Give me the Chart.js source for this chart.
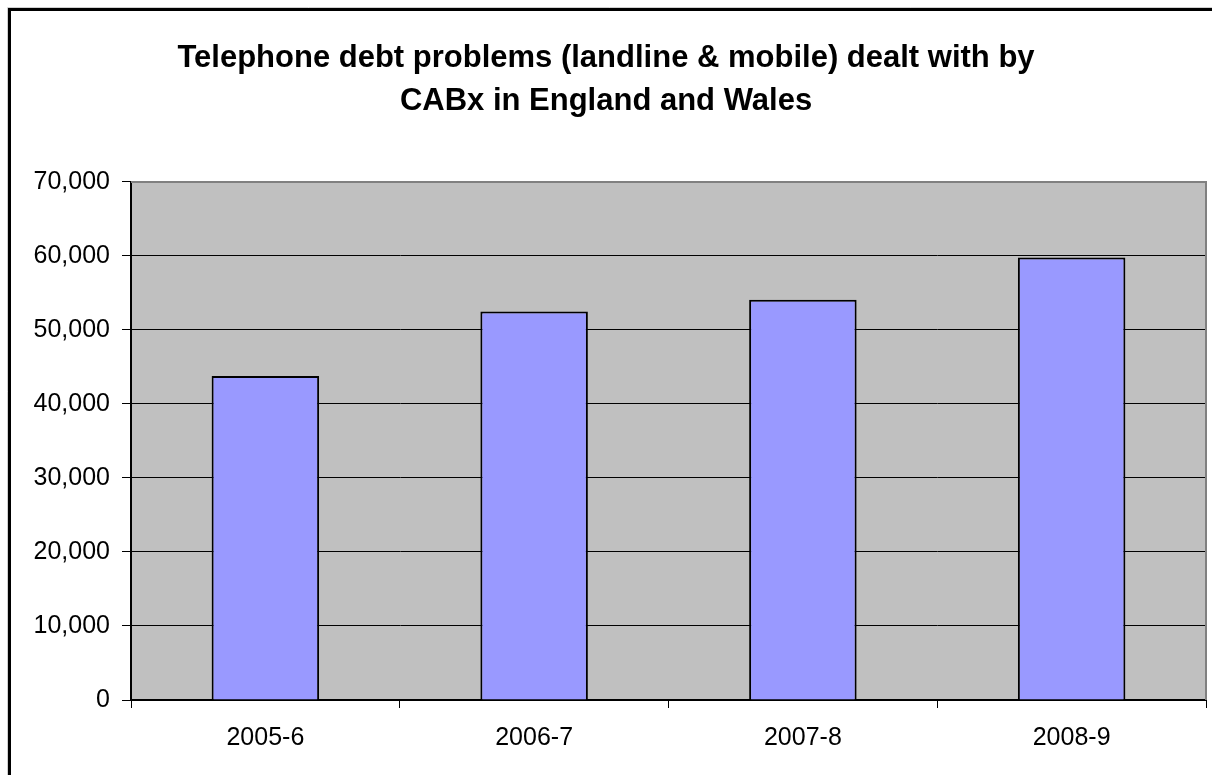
<!DOCTYPE html>
<html>
<head>
<meta charset="utf-8">
<script src="https://cdn.jsdelivr.net/npm/chart.js@4/dist/chart.umd.min.js"></script>
<style>
  html, body { margin: 0; padding: 0; background: #fff; }
  #wrap { width: 1212px; height: 775px; position: relative; }
</style>
</head>
<body>
<div id="wrap"><canvas id="c" width="1212" height="775"></canvas></div>
<script>
const categories = ["2005-6", "2006-7", "2007-8", "2008-9"];
const problems = [43800, 52500, 54100, 59800];
const titleLines = ["Telephone debt problems (landline & mobile) dealt with by", "CABx in England and Wales"];
const yMin = 0, yMax = 70000, yStep = 10000;

const FONT = "'Liberation Sans', Arial, Helvetica, sans-serif";

const framePlugin = {
  id: 'frame',
  beforeDraw(chart) {
    const { ctx, chartArea: a } = chart;
    ctx.save();
    ctx.fillStyle = '#C0C0C0';
    ctx.fillRect(a.left, a.top, a.right - a.left, a.bottom - a.top);
    ctx.restore();
  },
  afterDraw(chart) {
    const { ctx, chartArea: a } = chart;
    ctx.save();
    ctx.strokeStyle = '#808080';
    ctx.lineWidth = 2;
    ctx.beginPath();
    ctx.moveTo(a.left, a.top);
    ctx.lineTo(a.right, a.top);
    ctx.lineTo(a.right, a.bottom);
    ctx.stroke();
    ctx.strokeStyle = '#D0D0D0';
    ctx.lineWidth = 1;
    ctx.beginPath();
    ctx.moveTo(7.5, 775);
    ctx.lineTo(7.5, 7.5);
    ctx.lineTo(1212, 7.5);
    ctx.stroke();
    ctx.strokeStyle = '#000';
    ctx.lineWidth = 3;
    ctx.beginPath();
    ctx.moveTo(9.5, 775);
    ctx.lineTo(9.5, 9.5);
    ctx.lineTo(1212, 9.5);
    ctx.stroke();
    ctx.restore();
  }
};

new Chart(document.getElementById('c'), {
  type: 'bar',
  data: {
    labels: categories,
    datasets: [{
      label: 'Telephone debt problems',
      data: problems,
      backgroundColor: '#9999FF',
      borderColor: '#000',
      borderWidth: 2,
      barPercentage: 0.4,
      categoryPercentage: 1.0
    }]
  },
  options: {
    responsive: false,
    animation: false,
    devicePixelRatio: 1,
    layout: { padding: { left: 6, right: 6, top: 0, bottom: 0 } },
    plugins: {
      legend: { display: false },
      tooltip: { enabled: false },
      title: {
        display: true,
        text: titleLines,
        color: '#000',
        font: { family: FONT, size: 31, weight: 'bold', lineHeight: 1.387 },
        padding: { top: 37, bottom: 59 }
      }
    },
    scales: {
      x: {
        afterFit(s) { s.height = 75; },
        grid: { display: true, drawOnChartArea: false, drawTicks: true, tickLength: 8, color: '#000', lineWidth: 1, offset: true },
        border: { display: true, color: '#000', width: 2 },
        ticks: { color: '#000', font: { family: FONT, size: 25 }, padding: 15, maxRotation: 0 }
      },
      y: {
        min: yMin, max: yMax,
        afterFit(s) { s.width = 125; },
        grid: { color: '#000', lineWidth: 1, tickLength: 9, drawTicks: true },
        border: { display: true, color: '#000', width: 2 },
        ticks: {
          stepSize: yStep,
          color: '#000',
          padding: 12,
          font: { family: FONT, size: 25 },
          callback: v => v.toLocaleString('en-US')
        }
      }
    }
  },
  plugins: [framePlugin]
});
</script>
</body>
</html>
